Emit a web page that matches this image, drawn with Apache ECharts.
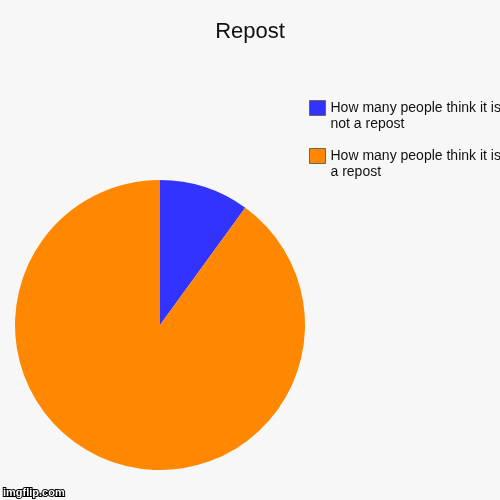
<!DOCTYPE html>
<html><head><meta charset="utf-8">
<script src="https://cdn.jsdelivr.net/npm/echarts@6/dist/echarts.min.js"></script>
<style>html,body{margin:0;padding:0;background:#f7f7f7;}#c{width:500px;height:500px;}</style>
</head><body><div id="c"></div>
<script>
const titleText = 'Repost';
const categories = ['How many people think it is\nnot a repost', 'How many people think it is\na repost'];
const values = [10, 90];
const colors = ['#3333ff', '#ff8800'];

const chart = echarts.init(document.getElementById('c'));
chart.setOption({
  backgroundColor: '#f7f7f7',
  animation: false,
  title: {
    text: titleText, left: 'center', top: 16, padding: [5, 10, 5, 5],
    textStyle: { fontFamily: 'Liberation Sans, Arial', fontSize: 22, fontWeight: 'normal', color: '#111' }
  },
  legend: {
    orient: 'vertical', left: 309, top: 100, padding: 0, itemWidth: 16, itemHeight: 32, itemGap: 15,
    icon: 'path://M0,0H16V15H0Z M0,32L0,32',
    itemStyle: { borderColor: '#666', borderWidth: 1 },
    textStyle: { fontFamily: 'Liberation Sans, Arial', fontSize: 14, color: '#111', lineHeight: 16 },
    data: categories
  },
  graphic: [{
    type: 'text', left: 2, top: 486,
    style: { text: 'imgflip.com', fontFamily: 'Liberation Sans, Arial', fontSize: 11, fontWeight: 'bold', fill: '#fff', stroke: '#000', lineWidth: 2 }
  }],
  series: [{
    type: 'pie', center: [160, 325], radius: 145, startAngle: 90, clockwise: true,
    label: { show: false }, labelLine: { show: false },
    emphasis: { disabled: true },
    data: categories.map((c, i) => ({ name: c, value: values[i], itemStyle: { color: colors[i] } }))
  }]
});
</script></body></html>
